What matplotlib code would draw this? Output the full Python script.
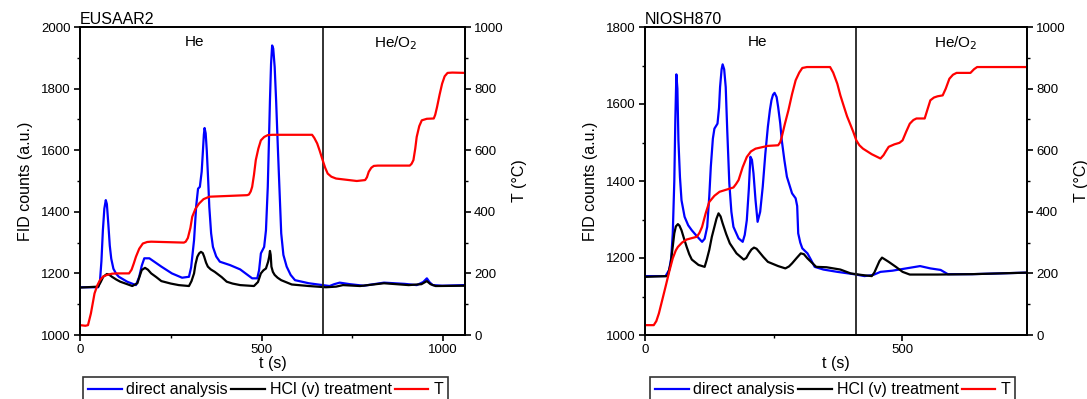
import matplotlib
matplotlib.use("Agg")
import matplotlib.pyplot as plt
from matplotlib.ticker import MultipleLocator

plt.rcParams['font.family'] = ['Liberation Sans', 'DejaVu Sans']

# ---------------- EUSAAR2 ----------------
eu_t_T = [0, 15, 22, 30, 40, 48, 55, 64, 74, 88, 102, 135, 142, 148, 154, 163, 173, 185, 196, 286, 291,
          297, 304, 309, 318, 328, 340, 356, 460, 465, 470, 474, 479, 484, 491, 498, 507, 517, 530, 639,
          645, 653, 660, 668, 675, 682, 692, 705, 762, 785, 790, 795, 802, 809, 820, 908, 913, 918, 923,
          927, 934, 941, 955, 974, 978, 983, 990, 997, 1004, 1012, 1025, 1060]
eu_T = [32, 30, 32, 70, 135, 162, 178, 190, 195, 199, 200, 200, 212, 232, 254, 280, 297, 302, 303, 300,
        303, 315, 348, 384, 410, 427, 441, 449, 454, 456, 466, 481, 520, 568, 605, 632, 643, 649, 650, 650,
        640, 622, 598, 568, 543, 524, 514, 508, 500, 503, 512, 530, 543, 549, 550, 550, 556, 568, 605,
        643, 678, 697, 702, 703, 715, 740, 780, 816, 840, 851, 852, 851]

eu_t_direct = [0, 50, 55, 59, 63, 67, 71, 74, 78, 82, 86, 92, 100, 107, 130, 154, 163, 170, 177, 191, 224,
               253, 281, 300, 306, 314, 320, 325, 330, 335, 338, 341, 343, 346, 349, 353, 356, 361, 366,
               375, 385, 413, 441, 474, 488, 493, 498, 507, 512, 517, 520, 523, 526, 529, 532, 536, 540,
               545, 550, 554, 560, 569, 580, 592, 630, 668, 687, 700, 715, 743, 781, 837, 894, 927, 945,
               955, 962, 971, 997, 1060]
eu_direct = [1155, 1155, 1175, 1240, 1340, 1410, 1438, 1425, 1360, 1290, 1248, 1215, 1198, 1189, 1173, 1162,
             1189, 1225, 1249, 1249, 1222, 1200, 1186, 1189, 1220, 1308, 1420, 1475, 1481, 1530, 1589,
             1650, 1672, 1655, 1600, 1500, 1416, 1330, 1286, 1255, 1238, 1227, 1213, 1184, 1184, 1210,
             1265, 1286, 1340, 1481, 1620, 1762, 1880, 1940, 1930, 1870, 1760, 1600, 1450, 1330, 1260,
             1222, 1195, 1178, 1168, 1162, 1159, 1165, 1170, 1165, 1160, 1170, 1166, 1162, 1172, 1184,
             1172, 1162, 1160, 1162]

eu_t_hcl = [0, 50, 57, 64, 74, 80, 88, 100, 111, 130, 144, 158, 164, 170, 179, 187, 196, 210, 224, 250,
            272, 300, 307, 314, 318, 323, 328, 333, 338, 342, 347, 352, 360, 371, 390, 404, 420, 441, 479,
            490, 498, 505, 512, 518, 521, 523, 525, 527, 531, 536, 544, 554, 583, 630, 677, 705, 724, 771,
            837, 905, 940, 955, 965, 979, 1060]
eu_hcl = [1154, 1157, 1172, 1189, 1198, 1196, 1189, 1180, 1173, 1165, 1159, 1168, 1190, 1211, 1218, 1212,
          1200, 1188, 1175, 1167, 1162, 1159, 1175, 1200, 1230, 1254, 1265, 1270, 1266, 1254, 1235, 1222,
          1213, 1205, 1188, 1173, 1167, 1162, 1159, 1172, 1200, 1210, 1216, 1238, 1255, 1273, 1260, 1222,
          1205, 1195, 1186, 1178, 1164, 1159, 1155, 1157, 1162, 1159, 1168, 1162, 1165, 1175, 1165, 1159,
          1160]

# ---------------- NIOSH870 ----------------
ni_t_T = [0, 17, 22, 27, 33, 40, 47, 54, 60, 64, 72, 81, 101, 106, 111, 118, 125, 135, 145, 172, 177, 182,
          190, 198, 206, 215, 239, 259, 263, 266, 272, 279, 286, 293, 300, 306, 315, 360, 366, 374, 380,
          387, 393, 400, 405, 411, 417, 424, 441, 458, 464, 469, 474, 485, 495, 501, 508, 515, 522, 528,
          544, 549, 555, 562, 569, 579, 585, 592, 599, 606, 633, 640, 646, 743]
ni_T = [32, 32, 45, 70, 110, 157, 205, 249, 275, 286, 300, 310, 319, 332, 351, 395, 432, 452, 465, 479,
        490, 503, 545, 578, 596, 605, 614, 616, 626, 643, 685, 730, 782, 827, 852, 867, 870, 870, 852,
        816, 778, 741, 710, 681, 660, 632, 616, 605, 587, 573, 584, 598, 611, 619, 624, 632, 660, 686,
        698, 703, 703, 730, 762, 771, 775, 778, 800, 832, 845, 851, 851, 863, 870, 870]

ni_t_direct = [0, 40, 47, 51, 54, 57, 59, 61, 63, 65, 68, 71, 77, 84, 91, 100, 111, 116, 121, 125, 128,
               132, 135, 141, 144, 146, 149, 151, 154, 157, 160, 164, 168, 172, 182, 190, 194, 198, 202,
               205, 208, 211, 215, 219, 224, 229, 234, 239, 243, 246, 249, 252, 256, 259, 263, 266, 271,
               276, 286, 293, 296, 298, 302, 306, 316, 323, 330, 347, 374, 406, 427, 444, 458, 481, 508,
               535, 555, 575, 589, 636, 743]
ni_direct = [1153, 1153, 1169, 1200, 1264, 1400, 1560, 1677, 1640, 1506, 1410, 1350, 1307, 1285, 1272,
             1258, 1242, 1250, 1281, 1360, 1437, 1510, 1536, 1549, 1590, 1644, 1690, 1703, 1690, 1644,
             1530, 1394, 1320, 1281, 1251, 1242, 1260, 1298, 1380, 1463, 1455, 1420, 1350, 1294, 1320,
             1385, 1470, 1541, 1585, 1610, 1624, 1629, 1618, 1592, 1550, 1506, 1455, 1411, 1368, 1355,
             1335, 1264, 1240, 1225, 1212, 1195, 1177, 1170, 1164, 1158, 1153, 1156, 1164, 1167, 1173,
             1179, 1173, 1169, 1158, 1158, 1162]

ni_t_hcl = [0, 44, 50, 54, 57, 60, 64, 67, 71, 76, 81, 86, 91, 104, 116, 120, 125, 130, 135, 139, 143, 147,
            151, 158, 165, 178, 192, 197, 202, 207, 212, 217, 222, 230, 239, 259, 273, 280, 286, 295, 303,
            309, 316, 333, 353, 380, 400, 421, 441, 446, 451, 456, 461, 467, 474, 488, 501, 515, 569, 636,
            743]
ni_hcl = [1151, 1153, 1186, 1230, 1264, 1282, 1288, 1284, 1272, 1250, 1229, 1210, 1196, 1182, 1177, 1195,
          1221, 1255, 1281, 1302, 1316, 1308, 1290, 1262, 1238, 1212, 1196, 1200, 1212, 1222, 1227, 1224,
          1216, 1203, 1190, 1179, 1173, 1178, 1186, 1200, 1212, 1210, 1199, 1177, 1176, 1170, 1160, 1156,
          1153, 1162, 1177, 1192, 1201, 1196, 1190, 1177, 1164, 1157, 1157, 1158, 1162]

legend_labels = ['direct analysis', 'HCl (v) treatment', 'T']

W, H = 1087, 399
fig = plt.figure(figsize=(W / 100, H / 100), dpi=100)

panels = [
    dict(name='EUSAAR2', x0=80, x1=465, xmax=1060, ylim=(1000, 2000), vline=669,
         he_x=315, heo_x=869, tT=eu_t_T, T=eu_T, td=eu_t_direct, d=eu_direct, th=eu_t_hcl, h=eu_hcl,
         leg_x=83),
    dict(name='NIOSH870', x0=645, x1=1027, xmax=743, ylim=(1000, 1800), vline=410,
         he_x=219, heo_x=605, tT=ni_t_T, T=ni_T, td=ni_t_direct, d=ni_direct, th=ni_t_hcl, h=ni_hcl,
         leg_x=650),
]

top, bottom = 27, 335
for p in panels:
    ax = fig.add_axes([p['x0'] / W, (H - bottom) / H, (p['x1'] - p['x0']) / W, (bottom - top) / H])
    ax2 = ax.twinx()
    l1, = ax.plot(p['td'], p['d'], color='#0000ff', lw=1.6, solid_joinstyle='round')
    l2, = ax.plot(p['th'], p['h'], color='black', lw=1.6, solid_joinstyle='round')
    l3, = ax2.plot(p['tT'], p['T'], color='#ff0000', lw=1.6, solid_joinstyle='round')
    ax.axvline(p['vline'], color='#222222', lw=1.3)
    ax.set_xlim(0, p['xmax'])
    ax.set_ylim(*p['ylim'])
    ax2.set_ylim(0, 1000)
    ax.xaxis.set_major_locator(MultipleLocator(500))
    ax.xaxis.set_minor_locator(MultipleLocator(250))
    ax.yaxis.set_major_locator(MultipleLocator(200))
    ax.yaxis.set_minor_locator(MultipleLocator(100))
    ax2.yaxis.set_major_locator(MultipleLocator(200))
    ax2.yaxis.set_minor_locator(MultipleLocator(100))
    for a in (ax, ax2):
        a.tick_params(which='major', direction='out', length=4.5, width=1.2, labelsize=9.5, pad=2)
        a.tick_params(which='minor', direction='out', length=2.5, width=1.0)
        for s in a.spines.values():
            s.set_linewidth(1.3)
    ax.set_xlabel('t (s)', fontsize=11.5, labelpad=0)
    ax.set_ylabel('FID counts (a.u.)', fontsize=11.5, labelpad=6)
    ax2.set_ylabel('T (°C)', fontsize=11.5, labelpad=6)
    ax.set_title(p['name'], loc='left', fontsize=11.5, pad=1)
    ax.text(p['he_x'], 0.975, 'He', transform=ax.get_xaxis_transform(), ha='center', va='top',
            fontsize=11)
    ax.text(p['heo_x'], 0.975, 'He/O$_2$', transform=ax.get_xaxis_transform(), ha='center', va='top',
            fontsize=11)
    leg = fig.legend([l1, l2, l3], legend_labels, loc='upper left',
                     bbox_to_anchor=(p['leg_x'] / W, (H - 377) / H), ncol=3, fontsize=11.5,
                     frameon=True, fancybox=False, handlelength=2.1, handletextpad=0.3,
                     columnspacing=0.2, borderpad=0.32, borderaxespad=0)
    leg.get_frame().set_edgecolor('black')
    leg.get_frame().set_linewidth(1.2)

fig.savefig('out.png', dpi=100)
